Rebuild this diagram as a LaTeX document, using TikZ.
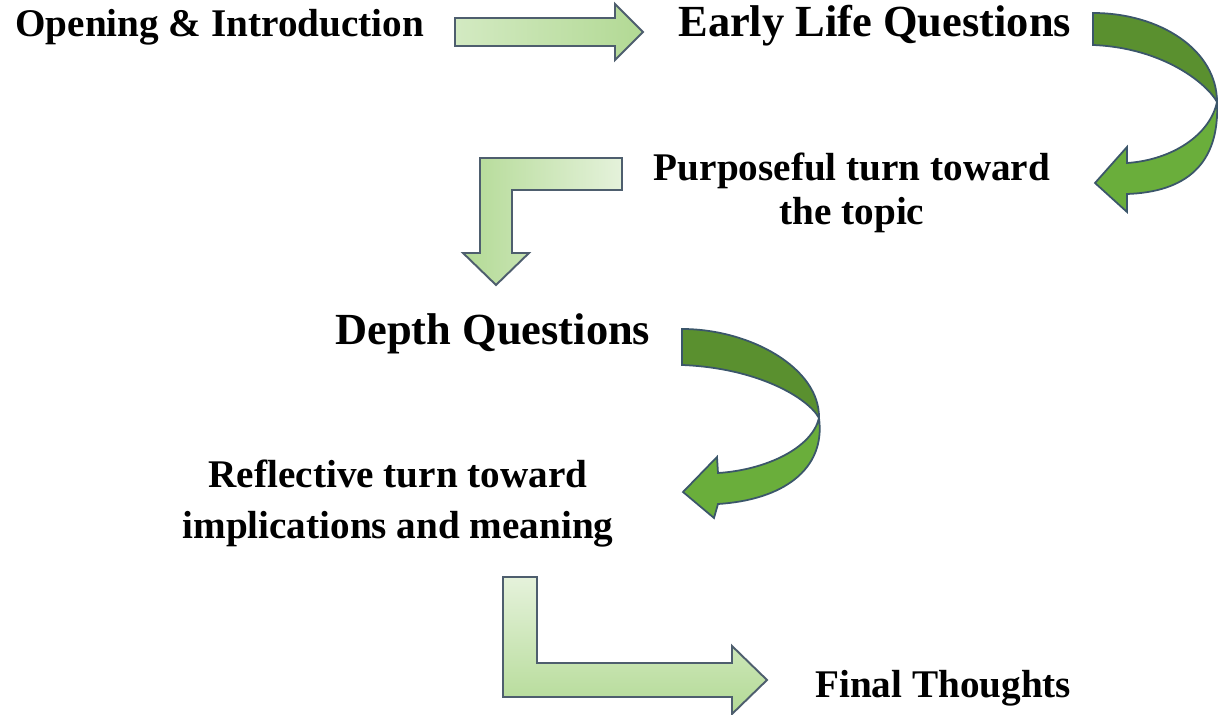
\documentclass[tikz,border=0pt]{standalone}
\usepackage{fontspec}
\setmainfont{Liberation Serif}
\usepackage{tikz}
\usetikzlibrary{positioning}

\definecolor{paleL}{HTML}{D3EAC2}
\definecolor{paleM}{HTML}{E6F2DD}
\definecolor{paleR}{HTML}{B2D994}
\definecolor{paleG}{HTML}{B3DA95}
\definecolor{paleW}{HTML}{E5F2DB}
\definecolor{edgegrey}{HTML}{4E5E6E}
\definecolor{darkG}{HTML}{5A902F}
\definecolor{liteG}{HTML}{6AAE3B}
\definecolor{edgeblue}{HTML}{3B566A}

\tikzset{
  lbl/.style={font=\fontsize{22.3}{25}\selectfont\bfseries, inner sep=0pt, anchor=base west},
  bigl/.style={lbl, font=\fontsize{25.3}{28}\selectfont\bfseries},
  flat/.style={draw=edgegrey, line width=1.1pt, line join=miter},
  twist/.style={draw=edgeblue, line width=1pt, line join=miter},
}

\begin{document}
\begin{tikzpicture}[x=0.02cm, y=-0.02cm]
\useasboundingbox (0,0) rectangle (1218,715);

\node[lbl] (open) at (15,37) {Opening \& Introduction};
\node[bigl] (early) at (678,37) {Early Life Questions};
\node[lbl, align=center, anchor=north] (purpose) at (852,153) {Purposeful turn toward\\the topic};
\node[bigl] (depth) at (335,345) {Depth Questions};
\node[lbl, align=center, anchor=north, font=\fontsize{22.3}{28.5}\selectfont\bfseries] (reflect) at (398,460) {Reflective turn toward\\implications and meaning};
\node[lbl] (final) at (815,698) {Final Thoughts};

% straight arrow
\path[flat, left color=paleL, middle color=paleM, right color=paleR]
  (455,18) -- (615,18) -- (615,4) -- (643,32) -- (615,60) -- (615,46) -- (455,46) -- cycle;

% curved arrow, right side
\path[twist, fill=darkG]
  (1093,13) .. controls (1160,13) and (1217,50) .. (1217,102)
  .. controls (1208,85) and (1165,48) .. (1093,45) -- cycle;
\path[twist, fill=liteG]
  (1217,102) .. controls (1220,165) and (1185,192) .. (1127,194)
  -- (1127,212) -- (1095,183) -- (1127,147) -- (1127,163)
  .. controls (1172,160) and (1210,135) .. (1217,102) -- cycle;

% bent arrow down
\path[flat, left color=paleG, right color=paleW]
  (622,158) -- (480,158) -- (480,253) -- (463,253) -- (496,285) -- (529,253)
  -- (512,253) -- (512,190) -- (622,190) -- cycle;

% curved arrow, middle
\path[twist, fill=darkG]
  (682,329) .. controls (750,329) and (820,368) .. (819,418)
  .. controls (808,398) and (758,368) .. (682,365) -- cycle;
\path[twist, fill=liteG]
  (819,418) .. controls (826,470) and (782,500) .. (718,504)
  -- (714,518) -- (683,492) -- (717,457) -- (718,473)
  .. controls (766,470) and (812,448) .. (819,418) -- cycle;

% bent arrow right
\path[flat, top color=paleW, bottom color=paleG]
  (503,577) -- (537,577) -- (537,663) -- (732,663) -- (732,646) -- (767,680)
  -- (732,714) -- (732,697) -- (503,697) -- cycle;
\end{tikzpicture}
\end{document}
